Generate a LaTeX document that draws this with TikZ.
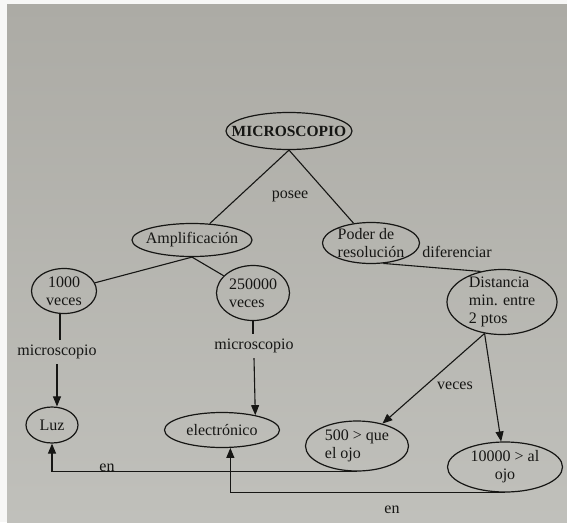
\documentclass[tikz,border=0pt]{standalone}
\usepackage{fontspec}
\setmainfont{Liberation Serif}
\usepackage{tikz}
\usetikzlibrary{shapes.geometric,arrows.meta}
\definecolor{ink}{RGB}{22,22,20}
\definecolor{papertop}{RGB}{172,171,165}
\definecolor{papermid}{RGB}{200,200,195}
\definecolor{paperbot}{RGB}{192,192,187}

\begin{document}
\begin{tikzpicture}[x=1pt,y=-1pt,
    every node/.style={text=ink,font=\fontsize{16}{18}\selectfont},
    concepto/.style={draw=ink,line width=1.2pt,ellipse,inner sep=0pt,align=left},
    enlace/.style={inner xsep=3pt,inner ysep=5pt},
    linea/.style={draw=ink,line width=1.1pt},
    flecha/.style={-{Triangle[length=10pt,width=8pt]}}]
    \useasboundingbox (0,0) rectangle (567,522);
    \fill[white!90!papertop] (0,0) rectangle (567,522);
    \shade[top color=papertop,middle color=papermid,bottom color=paperbot] (7,4) rectangle (567,522);

    \node[concepto,minimum width=126pt,minimum height=37pt,inner xsep=-13pt,font=\fontsize{15.5}{18}\selectfont\bfseries] (micro) at (289,131) {MICROSCOPIO};
    \node[concepto,minimum width=120pt,minimum height=33pt,inner xsep=-4pt] (amp) at (192,240) {Amplificación};
    \node[concepto,minimum width=97pt,minimum height=41pt,inner sep=-2pt] (poder) at (371,243) {Poder de\\resolución};
    \node[concepto,minimum width=110pt,minimum height=65pt,inner sep=-2pt] (dist) at (502,302) {Distancia\\min. entre\\2 ptos};
    \node[concepto,minimum width=65pt,minimum height=45pt,align=center] (mil) at (64,291) {1000\\veces};
    \node[concepto,minimum width=73pt,minimum height=55pt] (dosc) at (253,293) {250000\\veces};
    \node[concepto,minimum width=52pt,minimum height=36pt] (luz) at (52,425) {Luz};
    \node[concepto,minimum width=115pt,minimum height=35pt] (elec) at (222,430) {electrónico};
    \node[concepto,minimum width=103pt,minimum height=50pt] (quin) at (357,446) {500 > que\\el ojo};
    \node[concepto,minimum width=115pt,minimum height=50pt,align=center] (diez) at (505,467) {10000 > al\\ojo};

    \node[enlace] (posee) at (290,196) {posee};
    \node[enlace] (difer) at (457,252) {diferenciar};
    \node[enlace] (micA) at (57,352) {microscopio};
    \node[enlace] (micB) at (254,346) {microscopio};
    \node[enlace] (veces) at (455,386) {veces};
    \node[enlace] (enA) at (107,468) {en};
    \node[enlace] (enB) at (392,510) {en};

    \draw[linea] (micro.south) -- (amp);
    \draw[linea] (micro.south) -- (poder);
    \draw[linea] (amp.south) -- (mil);
    \draw[linea] (amp.south) -- (dosc);
    \draw[linea] (poder.-59) -- (dist.125);
    \draw[linea] (mil.-100) -- (mil.-100 |- micA.north);
    \draw[linea,flecha] (micA.south) -- (micA.south |- luz.north);
    \draw[linea] (dosc.south) -- (dosc.south |- micB.north);
    \draw[linea,flecha] (micB.south) -- (elec.24);
    \draw[linea,flecha] (dist.241) -- (quin);
    \draw[linea,flecha] (dist.241) -- (diez);
    \draw[linea,flecha] (quin.south) -| (luz.south);
    \draw[linea,flecha] (diez.south) -| (elec.-65);
  \end{tikzpicture}
\end{document}
